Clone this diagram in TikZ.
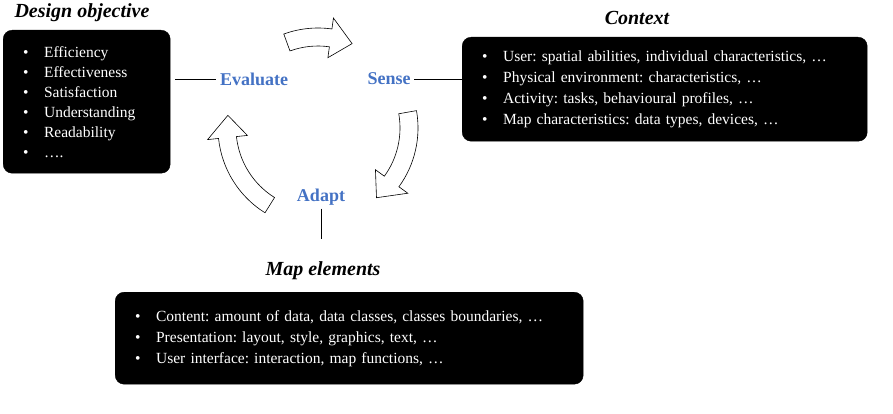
\documentclass[tikz,border=0pt]{standalone}
\usepackage{fontspec}
\setmainfont{Liberation Serif}
\usetikzlibrary{positioning}
\definecolor{stageblue}{HTML}{4472C4}
\frenchspacing
\tikzset{
  box/.style = {fill=black, draw=black, rounded corners=9pt, text=white, align=left, inner xsep=20pt, font=\fontsize{15.5}{21}\selectfont},
  title/.style = {font=\fontsize{20}{23}\selectfont\bfseries\itshape},
  stage/.style = {text=stageblue, font=\fontsize{18}{21}\selectfont\bfseries},
  blockarrow/.style = {draw=black, fill=white, line width=0.6pt}
}
% curved block arrow around the cycle centre: start angle, tip angle
\newcommand{\cyclearrow}[2]{%
  \pgfmathsetmacro{\headbase}{#2+14}
  \draw[blockarrow] ([shift={(318,285)}]#1:100) arc[start angle=#1, end angle=\headbase, radius=100]
    -- ([shift={(318,285)}]\headbase:111) -- ([shift={(318,285)}]#2:91)
    -- ([shift={(318,285)}]\headbase:71) -- ([shift={(318,285)}]\headbase:82)
    arc[start angle=\headbase, end angle=#1, radius=82] -- cycle;
}
\begin{document}
\begin{tikzpicture}[x=1pt, y=1pt]
\useasboundingbox (0,0) rectangle (893,413);
% the three boxes
\node[box, minimum width=167pt, minimum height=143pt, text width=127pt, anchor=north west, font=\fontsize{15.5}{20}\selectfont] (objective) at (3,383) {%
  \textbullet\quad Efficiency\\ \textbullet\quad Effectiveness\\ \textbullet\quad Satisfaction\\
  \textbullet\quad Understanding\\ \textbullet\quad Readability\\ \textbullet\quad \dots.};
\node[box, minimum width=405pt, minimum height=104pt, text width=365pt, anchor=north west] (context) at (462,376) {%
  \textbullet\quad User: spatial abilities, individual characteristics, \dots\\
  \textbullet\quad Physical environment: characteristics, \dots\\
  \textbullet\quad Activity: tasks, behavioural profiles, \dots\\
  \textbullet\quad Map characteristics: data types, devices, \dots};
\node[box, minimum width=468pt, minimum height=92pt, text width=428pt, anchor=north west] (elements) at (115,121) {%
  \textbullet\quad Content: amount of data, data classes, classes boundaries, \dots\\
  \textbullet\quad Presentation: layout, style, graphics, text, \dots\\
  \textbullet\quad User interface: interaction, map functions, \dots};
% titles
\node[title] (objtitle) at (82,400) {Design objective};
\node[title] (ctxtitle) at (637,395) {Context};
\node[title] (eltitle) at (323,142) {Map elements};
% cycle steps
\node[stage] (evaluate) at (254,334) {Evaluate};
\node[stage] (sense) at (389,334) {Sense};
\node[stage] (adapt) at (321,216) {Adapt};
\draw (objective.east |- evaluate) ++(5,0) coordinate (oe) -- (evaluate.west);
\draw (sense.east) -- (context.west |- sense);
\draw (adapt.south) -- ++(0,-30) coordinate (ae);
% arrows of the cycle
\cyclearrow{110}{68}
\cyclearrow{10}{-50}
\cyclearrow{-122}{-188}
\end{tikzpicture}
\end{document}
